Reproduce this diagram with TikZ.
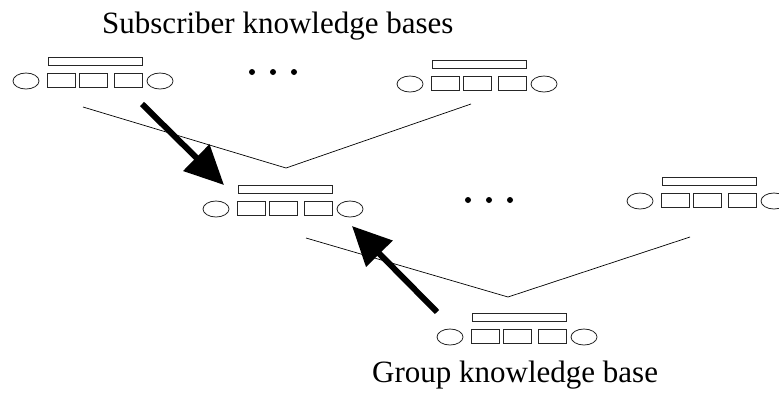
\documentclass[tikz,border=0pt]{standalone}
\usepackage{fontspec}
\setmainfont{Liberation Serif}
\usetikzlibrary{arrows.meta}

\tikzset{
  kbline/.style={line width=0.8pt, black!85},
  treeline/.style={line width=0.7pt},
  bigarrow/.style={line width=6pt, -{Triangle[length=39pt,width=36pt]}},
  caption/.style={anchor=base west, inner sep=0pt, font=\fontsize{31}{36}\selectfont},
  kbunit/.pic={
    % bar above the slots
    \draw [kbline] (-45,-22.5) rectangle (49,-15);
    % three slots
    \draw [kbline] (-46,-7) rectangle (-18,7);
    \draw [kbline] (-14,-7) rectangle (14,7);
    \draw [kbline] (21,-7) rectangle (49,7);
    % end ellipses
    \draw [kbline] (-67,1) ellipse (13 and 8);
    \draw [kbline] (67,1) ellipse (13 and 8);
  }
}

\begin{document}
\begin{tikzpicture}[x=1pt,y=-1pt]

\clip (0,0) rectangle (779,392);

%\draw [help lines] (0,0) grid [step=50] (779,392);

% Subscriber knowledge bases
\node [caption] (subtext) at (102,33) {Subscriber knowledge bases};
\pic (sub1) at (93,80) {kbunit};
\pic (sub2) at (477,83) {kbunit};
\foreach \x in {252,273,294} \fill (\x,72) circle (3);

% Group knowledge bases
\pic (grp1) at (283,208) {kbunit};
\pic (grp2) at (707,200) {kbunit};
\foreach \x in {468,489,510} \fill (\x,200) circle (3);

\pic (top) at (517,336) {kbunit};
\node [caption] (grptext) at (372,382) {Group knowledge base};

% tree lines
\coordinate (subL) at (83,107);
\coordinate (subM) at (286,168);
\coordinate (subR) at (471,104);
\draw [treeline] (subL)--(subM)--(subR);

\coordinate (grpL) at (306,238);
\coordinate (grpM) at (508,297);
\coordinate (grpR) at (690,237);
\draw [treeline] (grpL)--(grpM)--(grpR);

% arrows
\coordinate (a1s) at (142,104);
\coordinate (a1e) at (224,185);
\draw [bigarrow] (a1s)--(a1e);

\coordinate (a2s) at (437,312);
\coordinate (a2e) at (352,226);
\draw [bigarrow] (a2s)--(a2e);

\end{tikzpicture}
\end{document}
